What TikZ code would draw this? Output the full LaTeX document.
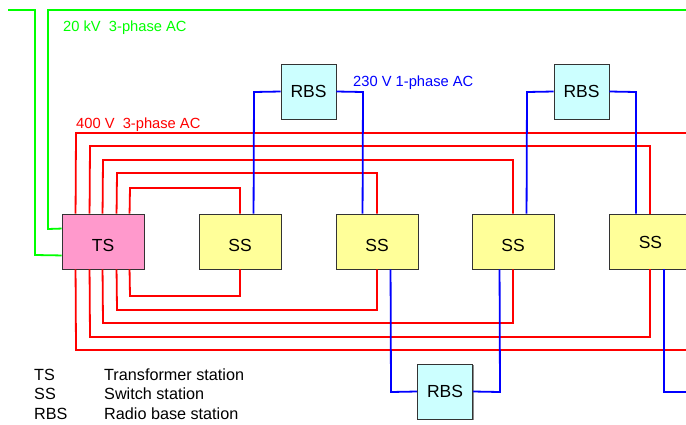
\documentclass[tikz,border=0pt]{standalone}
\usepackage{fontspec}
\setmainfont{Liberation Sans}
\definecolor{tsfill}{RGB}{255,153,204}
\definecolor{ssfill}{RGB}{255,255,153}
\definecolor{rbsfill}{RGB}{204,255,255}
\definecolor{grn}{RGB}{0,255,0}
\definecolor{blu}{RGB}{0,0,255}
\definecolor{rd}{RGB}{255,0,0}
\begin{document}
\begin{tikzpicture}[x=1pt,y=1pt,line join=miter,
  box/.style={draw=black!80,line width=0.9pt,inner sep=0pt,
    font=\fontsize{17.5}{20}\selectfont},
  tsbox/.style={box,fill=tsfill,minimum width=82pt,minimum height=55pt,text height=20pt},
  ssbox/.style={box,fill=ssfill,minimum width=82pt,minimum height=55pt,text height=20pt},
  rbsbox/.style={box,fill=rbsfill,minimum width=55pt,minimum height=55pt},
  shade/.style={fill=black!45},
  redln/.style={draw=rd,line width=1.8pt},
  bluln/.style={draw=blu,line width=1.8pt},
  grnln/.style={draw=grn,line width=1.8pt},
  lbl/.style={anchor=base west,inner sep=0pt,font=\fontsize{14.7}{17}\selectfont},
  leg/.style={anchor=base west,inner sep=0pt,font=\fontsize{16.2}{19}\selectfont}
]
\useasboundingbox (0,0) rectangle (686,-424);

% shadows (drawn first, behind boxes)
\fill[shade] (63.2,-215.2) rectangle (145.2,-270.2);
\fill[shade] (200.2,-215.2) rectangle (282.2,-270.2);
\fill[shade] (337.2,-215.2) rectangle (419.2,-270.2);
\fill[shade] (473.2,-215.2) rectangle (555.2,-270.2);
\fill[shade] (282.2,-65.2) rectangle (337.2,-120.2);
\fill[shade] (555.2,-65.2) rectangle (610.2,-120.2);
\fill[shade] (419.2,-365.2) rectangle (474.2,-420.2);

% nodes
\node[tsbox] (TS) at (103,-241.5) {TS};
\node[ssbox] (SS1) at (240,-241.5) {SS};
\node[ssbox] (SS2) at (377,-241.5) {SS};
\node[ssbox] (SS3) at (513,-241.5) {SS};
\node[ssbox,text height=14pt,minimum width=77pt,anchor=west] (SS4) at (609,-241.5) {\hspace*{5pt}SS};
\node[rbsbox] (RBS1) at (308.5,-91.5) {RBS};
\node[rbsbox] (RBS2) at (581.5,-91.5) {RBS};
\node[rbsbox] (RBS3) at (445,-391.5) {RBS};

% edge coordinates
\coordinate (g1) at (8,-10);
\coordinate (g2) at (686,-10);
\coordinate (r5t) at (686,-133);
\coordinate (r5b) at (686,-350);
\coordinate (b4) at (686,-392);

% green 20 kV
\draw[grnln] (g1) -- (35,-10) -- (35,-255) -- ([yshift=14pt]TS.south west);
\draw[grnln] (g2) -- (48,-10) -- (48,-229) -- ([yshift=-15pt]TS.north west);

% red 400 V, top
\draw[redln] ([xshift=68pt]TS.north west) -- (130,-188) -- (240,-188) -- (SS1.north);
\draw[redln] ([xshift=55pt]TS.north west) -- (117,-173) -- (377,-173) -- (SS2.north);
\draw[redln] ([xshift=41pt]TS.north west) -- (103,-160) -- (513,-160) -- (SS3.north);
\draw[redln] ([xshift=28pt]TS.north west) -- (90,-146) -- (650,-146) -- (650,-214);
\draw[redln] ([xshift=14pt]TS.north west) -- (76,-133) -- (r5t);
% red 400 V, bottom
\draw[redln] ([xshift=68pt]TS.south west) -- (130,-296) -- (240,-296) -- (SS1.south);
\draw[redln] ([xshift=55pt]TS.south west) -- (117,-310) -- (377,-310) -- (SS2.south);
\draw[redln] ([xshift=41pt]TS.south west) -- (103,-323) -- (513,-323) -- (SS3.south);
\draw[redln] ([xshift=28pt]TS.south west) -- (90,-337) -- (650,-337) -- (650,-269);
\draw[redln] ([xshift=14pt]TS.south west) -- (76,-350) -- (r5b);

% blue 230 V
\draw[bluln] (RBS1.west) -- (254,-92) -- ([xshift=55pt]SS1.north west);
\draw[bluln] (RBS1.east) -- (363,-92) -- ([xshift=27pt]SS2.north west);
\draw[bluln] (RBS2.west) -- (527,-92) -- ([xshift=55pt]SS3.north west);
\draw[bluln] (RBS2.east) -- (636,-92) -- ([xshift=27pt]SS4.north west);
\draw[bluln] ([xshift=55pt]SS2.south west) -- (391,-392) -- (RBS3.west);
\draw[bluln] ([xshift=28pt]SS3.south west) -- (500,-392) -- (RBS3.east);
\draw[bluln] ([xshift=55pt]SS4.south west) -- (664,-392) -- (b4);

% labels
\node[lbl,text=grn] (l20) at (63,-31) {20 kV\ \ 3-phase AC};
\node[lbl,text=rd] (l400) at (76,-128) {400 V\ \ 3-phase AC};
\node[lbl,text=blu] (l230) at (353,-86.5) {230 V 1-phase AC};

% legend
\node[leg] (k1) at (34,-380) {TS};
\node[leg] (k2) at (34,-399.5) {SS};
\node[leg] (k3) at (34,-419) {RBS};
\node[leg] (d1) at (104,-380) {Transformer station};
\node[leg] (d2) at (104,-399.5) {Switch station};
\node[leg] (d3) at (104,-419) {Radio base station};
\end{tikzpicture}
\end{document}
